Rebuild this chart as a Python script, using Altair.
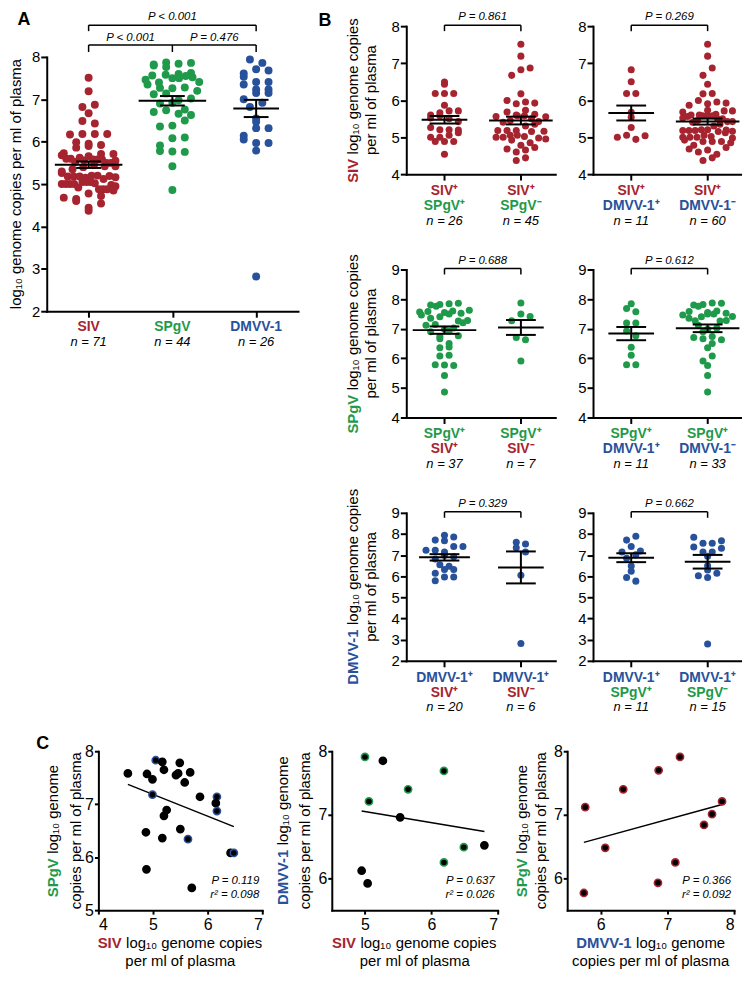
import math
import altair as alt
import pandas as pd

RED = "#A6242F"
GREEN = "#1F9A4A"
BLUE = "#28519B"
FONT = "Liberation Sans"

# ---------------- data (log10 genome copies per ml of plasma) ----------------
# Panel B, row 1
siv_spgv_pos = [6.49, 6.43, 6.18, 6.18, 6.18, 5.86, 5.71, 5.71, 5.66, 5.60, 5.58, 5.52, 5.50,
                5.42, 5.26, 5.20, 5.20, 5.19, 5.12, 5.05, 5.00, 5.00, 4.88, 4.88, 4.88, 4.54]
siv_spgv_neg = [7.51, 7.19, 6.87, 6.82, 6.67, 6.17, 5.99, 5.95, 5.92, 5.90, 5.73, 5.68, 5.62,
                5.60, 5.58, 5.58, 5.56, 5.55, 5.50, 5.45, 5.42, 5.40, 5.35, 5.30, 5.18, 5.18,
                5.18, 5.16, 5.15, 5.05, 5.05, 5.02, 5.00, 5.00, 4.98, 4.95, 4.92, 4.85, 4.78,
                4.72, 4.68, 4.65, 4.60, 4.44, 4.37]
siv_dmvv_pos = [6.82, 6.50, 6.18, 6.18, 5.67, 5.54, 5.26, 5.05, 5.04, 5.00, 4.94]
siv_dmvv_neg = [7.51, 7.19, 6.87, 6.67, 6.43, 6.18, 6.17, 5.99, 5.95, 5.92, 5.90, 5.86, 5.73,
                5.71, 5.71, 5.68, 5.62, 5.60, 5.60, 5.58, 5.58, 5.58, 5.56, 5.52, 5.50, 5.50,
                5.45, 5.42, 5.42, 5.40, 5.35, 5.30, 5.20, 5.20, 5.19, 5.18, 5.18, 5.18, 5.16,
                5.15, 5.12, 5.05, 5.02, 5.00, 5.00, 5.00, 4.98, 4.92, 4.88, 4.88, 4.88, 4.85,
                4.78, 4.72, 4.68, 4.65, 4.60, 4.54, 4.44, 4.37]
# Panel B, row 2
spgv_siv_pos = [7.86, 7.84, 7.82, 7.80, 7.76, 7.62, 7.60, 7.58, 7.56, 7.55, 7.52, 7.50, 7.46,
                7.40, 7.35, 7.28, 7.26, 7.20, 7.14, 7.12, 7.02, 6.98, 6.92, 6.90, 6.76, 6.74,
                6.66, 6.50, 6.38, 6.36, 6.10, 6.08, 5.78, 5.77, 5.76, 5.42, 4.86]
spgv_siv_neg = [7.87, 7.50, 7.41, 7.27, 6.70, 6.63, 5.91]
spgv_dmvv_pos = [7.84, 7.68, 7.57, 7.19, 7.19, 6.92, 6.76, 6.37, 6.10, 5.78, 5.78]
spgv_dmvv_neg = [7.87, 7.86, 7.82, 7.80, 7.76, 7.60, 7.58, 7.55, 7.52, 7.50, 7.50, 7.46, 7.41,
                 7.40, 7.35, 7.28, 7.27, 7.26, 7.12, 7.02, 6.98, 6.90, 6.74, 6.70, 6.66, 6.63,
                 6.50, 6.36, 6.08, 5.91, 5.76, 5.42, 4.86]
# Panel B, row 3
dmvv_siv_pos = [7.94, 7.86, 7.71, 7.68, 7.41, 7.41, 7.23, 7.23, 7.15, 7.00, 6.92, 6.82, 6.55,
                6.47, 6.32, 6.32, 6.14, 5.97, 5.97, 5.79]
dmvv_siv_neg = [7.61, 7.53, 7.35, 7.15, 6.05, 2.82]
dmvv_spgv_pos = [7.89, 7.71, 7.41, 7.20, 7.15, 7.02, 6.85, 6.48, 6.24, 5.94, 5.77]
dmvv_spgv_neg = [7.85, 7.68, 7.56, 7.56, 7.38, 7.33, 7.15, 7.15, 6.95, 6.50, 6.30, 6.14, 6.02,
                 5.94, 2.80]

# Panel A = all animals of each virus
siv_all = siv_spgv_pos + siv_spgv_neg
spgv_all = spgv_siv_pos + spgv_siv_neg
dmvv_all = dmvv_siv_pos + dmvv_siv_neg

# Panel C
c1_siv = [4.54, 4.89, 4.99, 5.05, 5.17, 5.20, 5.49, 5.42, 5.46, 5.68, 5.58, 4.99, 5.86, 6.17,
          6.15, 6.17, 5.25, 5.20, 4.87, 5.17, 5.50, 5.64, 6.42, 6.48, 4.88, 5.71]
c1_spgv = [7.58, 7.57, 7.47, 7.83, 7.80, 7.65, 7.78, 7.55, 7.58, 7.60, 7.41, 7.18, 7.14, 7.14,
           7.02, 6.87, 6.89, 6.78, 6.47, 6.36, 6.53, 6.34, 6.08, 6.08, 5.77, 5.42]
c1_ring = [0, 0, 0, 1, 0, 0, 0, 0, 0, 0, 0, 1, 0, 1, 0, 1, 0, 0, 0, 0, 0, 1, 0, 1, 0, 0]
c2_siv = [5.00, 5.27, 5.06, 5.65, 6.19, 5.53, 4.95, 5.04, 6.19, 6.49, 6.80]
c2_dmvv = [7.91, 7.85, 7.21, 7.40, 7.69, 6.96, 6.12, 5.92, 6.25, 6.49, 6.52]
c2_ring = [1, 0, 1, 1, 1, 0, 0, 0, 1, 1, 0]
c3_dmvv = [5.77, 5.75, 6.07, 6.34, 6.87, 7.19, 6.86, 7.12, 7.55, 7.67, 7.82]
c3_spgv = [7.12, 5.77, 6.48, 7.40, 7.70, 7.91, 5.93, 6.25, 6.84, 7.01, 7.21]
c3_ring = [1] * 11

p_A = ["P < 0.001", "P < 0.001", "P = 0.476"]
p_B = ["P = 0.861", "P = 0.269", "P = 0.688", "P = 0.612", "P = 0.329", "P = 0.662"]
p_C = ["P = 0.119", "P = 0.637", "P = 0.366"]
r2_C = ["r\u00b2 = 0.098", "r\u00b2 = 0.026", "r\u00b2 = 0.092"]

LOG = "log\u2081\u2080"
PLUS, MINUS = "\u207a", "\u207b"

# ---------------- helpers ----------------
REGW = {' ': 278, 'l': 222, 'o': 556, 'g': 556, 'e': 556, 'n': 556, 'm': 833, 'c': 500,
        'p': 556, 'i': 222, 's': 500, 'r': 333, 'f': 278, 'a': 556, '-': 333,
        '\u2081': 400, '\u2080': 400}
BOLDW = {'S': 667, 'I': 278, 'V': 667, 'P': 667, 'g': 611, 'D': 722, 'M': 833, '-': 333, '1': 556}
GAP = 4.5


def tw(s, size, bold=False):
    tab = BOLDW if bold else REGW
    return sum(tab.get(ch, 556) for ch in s) * size / 1000.0


ONE = pd.DataFrame({"k": [0]})


def txt(text, x, y, size, color="black", weight="normal", style="normal", align="center", angle=0):
    kw = dict(text=text, fontSize=size, color=color, fontWeight=weight, fontStyle=style,
              align=align, baseline="middle", font=FONT)
    if angle:
        kw["angle"] = angle
    return alt.Chart(ONE).mark_text(**kw).encode(x=alt.value(x), y=alt.value(y))


def ytitle(prefix, pcolor, rest, line2, x1, x2, yc, size=15):
    pw, rw = tw(prefix, size, True), tw(rest, size)
    anchor = yc + (pw + GAP + rw) / 2 - pw
    out = [txt(prefix, x1, anchor, size, pcolor, "bold", align="right", angle=270),
           txt(rest, x1, anchor - GAP, size, align="left", angle=270)]
    if line2:
        out.append(txt(line2, x2, yc, size, angle=270))
    return out


def xtitle(prefix, pcolor, rest, line2, w, y1, y2, size=15):
    pw, rw = tw(prefix, size, True), tw(rest, size)
    anchor = w / 2 - (pw + GAP + rw) / 2 + pw
    return [txt(prefix, anchor, y1, size, pcolor, "bold", align="right"),
            txt(rest, anchor + GAP, y1, size, align="left"),
            txt(line2, w / 2, y2, size)]


def swarm(vals, ppu_y, step, maxw, bh):
    bins = {}
    for i, v in enumerate(vals):
        bins.setdefault(int(math.floor(v * ppu_y / bh)), []).append(i)
    off = [0.0] * len(vals)
    for idx in bins.values():
        n = len(idx)
        if n < 2:
            continue
        s = min(step, maxw / (n - 1))
        order = sorted(idx, key=lambda i: (vals[i] * 61.8) % 1.0)
        for j, i in enumerate(order):
            off[i] = (j - (n - 1) / 2.0) * s
    return off


def dot_panel(groups, colors, lines, ydom, yticks, w, h, top, xdom, psize, step, maxw, bh, cap_px,
              brackets, ptexts, extra):
    ppu_y = (h - top) / (ydom[1] - ydom[0])
    ppu_x = w / (xdom[1] - xdom[0])
    rows = []
    for g, (vals, col) in enumerate(zip(groups, colors)):
        offs = swarm(vals, ppu_y, step, maxw, bh)
        hw = max(23, max(abs(o) for o in offs) + 7)
        for v, o in zip(vals, offs):
            rows.append({"g": g, "v": v, "xp": g + o / ppu_x, "c": col,
                         "hw": hw / ppu_x, "cw": cap_px / ppu_x})
    df = pd.DataFrame(rows)
    xs = alt.Scale(domain=xdom, nice=False, zero=False)
    ys = alt.Scale(domain=ydom, range=[h, top], nice=False, zero=False)
    xax = alt.Axis(values=list(range(len(groups))), labels=False, title=None, tickSize=6)
    yax = alt.Axis(values=yticks, title=None, tickSize=6, labelFontSize=15, labelPadding=1)

    def X(f):
        return alt.X(f, type="quantitative", scale=xs, axis=xax)

    def Y(f):
        return alt.Y(f, type="quantitative", scale=ys, axis=yax)

    layers = []
    layers.append(alt.Chart(df).mark_circle(size=psize, opacity=1).encode(
        x=X("xp"), y=Y("v"), color=alt.Color("c:N", scale=None)))
    stats = alt.Chart(df).transform_aggregate(
        m="mean(v)", se="stderr(v)", hw="max(hw)", cw="max(cw)", groupby=["g"]
    ).transform_calculate(
        lo="datum.m - datum.se", hi="datum.m + datum.se",
        ma="datum.g - datum.hw", mb="datum.g + datum.hw",
        ca="datum.g - datum.cw", cb="datum.g + datum.cw")
    layers.append(stats.mark_rule(color="black", strokeWidth=2).encode(x=X("ma"), x2="mb", y=Y("m")))
    layers.append(stats.mark_rule(color="black", strokeWidth=2).encode(x=X("g"), y=Y("lo"), y2="hi"))
    layers.append(stats.mark_rule(color="black", strokeWidth=2).encode(x=X("ca"), x2="cb", y=Y("lo")))
    layers.append(stats.mark_rule(color="black", strokeWidth=2).encode(x=X("ca"), x2="cb", y=Y("hi")))

    for (yoff, size, weight, style, items) in lines:
        ldf = pd.DataFrame({"g": list(range(len(items))), "t": [t for t, _ in items],
                            "c": [c for _, c in items]})
        layers.append(alt.Chart(ldf).mark_text(
            fontSize=size, fontWeight=weight, fontStyle=style, font=FONT, baseline="middle"
        ).encode(x=X("g"), y=alt.value(h + yoff), text="t:N", color=alt.Color("c:N", scale=None)))

    for (x0, x1, yl, legs, down) in brackets:
        layers.append(alt.Chart(pd.DataFrame({"a": [x0], "b": [x1]})).mark_rule(
            color="black", strokeWidth=1.5).encode(x=X("a"), x2="b", y=alt.value(top + yl)))
        layers.append(alt.Chart(pd.DataFrame({"a": legs})).mark_rule(
            color="black", strokeWidth=1.5).encode(
            x=X("a"), y=alt.value(top + yl), y2=alt.value(top + yl + down)))
    for (xp, yp, t) in ptexts:
        layers.append(alt.Chart(pd.DataFrame({"a": [xp], "t": [t]})).mark_text(
            fontSize=11.5, fontStyle="italic", font=FONT, baseline="middle", color="black"
        ).encode(x=X("a"), y=alt.value(top + yp), text="t:N"))
    layers += extra
    return alt.layer(*layers).properties(width=w, height=h)


def scatter_panel(xv, yv, ring, rcol, xdom, ydom, xticks, yticks, w, h, extra, ptxt, rtxt):
    df = pd.DataFrame({"x": xv, "y": yv, "s": [rcol if r else "black" for r in ring]})
    xs = alt.Scale(domain=xdom, nice=False, zero=False)
    ys = alt.Scale(domain=ydom, nice=False, zero=False)
    xax = alt.Axis(values=xticks, title=None, tickSize=4, labelFontSize=16, labelPadding=2)
    yax = alt.Axis(values=yticks, title=None, tickSize=4, labelFontSize=16, labelPadding=1)
    pts = alt.Chart(df).mark_circle(size=52, opacity=1, fill="black", strokeWidth=1.6).encode(
        x=alt.X("x:Q", scale=xs, axis=xax), y=alt.Y("y:Q", scale=ys, axis=yax),
        stroke=alt.Stroke("s:N", scale=None))
    reg = alt.Chart(df).transform_regression("x", "y").mark_line(color="black", strokeWidth=1.5).encode(
        x=alt.X("x:Q", scale=xs, axis=xax), y=alt.Y("y:Q", scale=ys, axis=yax))
    layers = [reg, pts,
              txt(ptxt, w - 3, h - 29, 11.5, style="italic", align="right"),
              txt(rtxt, w - 3, h - 15, 11.5, style="italic", align="right")] + extra
    return alt.layer(*layers).properties(width=w, height=h)


# ---------------- panel A ----------------
AW, AT, AAX = 253, 31, 256          # width, blank band above the axis, axis height
AH = AT + AAX
A_chart = dot_panel(
    [siv_all, spgv_all, dmvv_all], [RED, GREEN, BLUE],
    [(16, 14, "bold", "normal", [("SIV", RED), ("SPgV", GREEN), ("DMVV-1", BLUE)]),
     (31, 13, "normal", "italic", [("n = %d" % len(siv_all), "black"), ("n = %d" % len(spgv_all), "black"),
                                    ("n = %d" % len(dmvv_all), "black")])],
    [2, 8], list(range(2, 9)), AW, AH, AT, [-0.5, 2.5], 64, 12.5, 54, 9, 12.5,
    [(0, 2, -32, [0, 2], 6), (0, 2, -12, [0, 1, 2], 7)],
    [(1, -40, p_A[0]), (0.5, -19, p_A[1]), (1.5, -19, p_A[2])],
    [txt(LOG + " genome copies per ml of plasma", -31, AT + AAX / 2, 15, angle=270),
     txt("A", -23, AT - 37, 18, weight="bold")])

# ---------------- panel B ----------------
BW, BH = 150, 149
BXD = [-0.5, 1.45]


def bpanel(g0, g1, col, l0, l1, ydom, yticks, p, title=None, letter=False):
    lines = [(17, 14, "bold", "normal", [l0[0], l1[0]]),
             (32, 14, "bold", "normal", [l0[1], l1[1]]),
             (47, 13, "normal", "italic", [("n = %d" % len(g0), "black"), ("n = %d" % len(g1), "black")])]
    extra = []
    if title:
        extra += ytitle(title[0], title[1], LOG + " genome copies", "per ml of plasma",
                        -54, -35, BH / 2)
    if letter:
        extra.append(txt("B", -82, -5, 18, weight="bold"))
    return dot_panel([g0, g1], [col, col], lines, ydom, yticks, BW, BH, 0, BXD, 50, 9.3, 50, 8, 15,
                     [(0, 1, -1, [0, 1], 6)], [(0.5, -9, p)], extra)


S, G, D = "SIV", "SPgV", "DMVV-1"
B1 = bpanel(siv_spgv_pos, siv_spgv_neg, RED, [(S + PLUS, RED), (G + PLUS, GREEN)],
            [(S + PLUS, RED), (G + MINUS, GREEN)], [4, 8], [4, 5, 6, 7, 8], p_B[0], (S, RED), True)
B2 = bpanel(siv_dmvv_pos, siv_dmvv_neg, RED, [(S + PLUS, RED), (D + PLUS, BLUE)],
            [(S + PLUS, RED), (D + MINUS, BLUE)], [4, 8], [4, 5, 6, 7, 8], p_B[1])
B3 = bpanel(spgv_siv_pos, spgv_siv_neg, GREEN, [(G + PLUS, GREEN), (S + PLUS, RED)],
            [(G + PLUS, GREEN), (S + MINUS, RED)], [4, 9], [4, 5, 6, 7, 8, 9], p_B[2], (G, GREEN))
B4 = bpanel(spgv_dmvv_pos, spgv_dmvv_neg, GREEN, [(G + PLUS, GREEN), (D + PLUS, BLUE)],
            [(G + PLUS, GREEN), (D + MINUS, BLUE)], [4, 9], [4, 5, 6, 7, 8, 9], p_B[3])
B5 = bpanel(dmvv_siv_pos, dmvv_siv_neg, BLUE, [(D + PLUS, BLUE), (S + PLUS, RED)],
            [(D + PLUS, BLUE), (S + MINUS, RED)], [2, 9], list(range(2, 10)), p_B[4], (D, BLUE))
B6 = bpanel(dmvv_spgv_pos, dmvv_spgv_neg, BLUE, [(D + PLUS, BLUE), (G + PLUS, GREEN)],
            [(D + PLUS, BLUE), (G + MINUS, GREEN)], [2, 9], list(range(2, 10)), p_B[5])

B_grid = alt.concat(B1, B2, B3, B4, B5, B6, columns=2,
                    spacing={"row": 96, "column": 38}, bounds="flush")

# ---------------- panel C ----------------
CH = 160
C1W, C2W, C3W = 165, 167, 168
C1 = scatter_panel(
    c1_siv, c1_spgv, c1_ring, BLUE, [4, 7], [5, 8], [4, 5, 6, 7], [5, 6, 7, 8], C1W, CH,
    ytitle(G, GREEN, LOG + " genome", "copies per ml of plasma", -46, -22, CH / 2)
    + xtitle(S, RED, LOG + " genome copies", "per ml of plasma", C1W, CH + 33, CH + 51)
    + [txt("C", -56, -7, 18, weight="bold")],
    p_C[0], r2_C[0])
C2 = scatter_panel(
    c2_siv, c2_dmvv, c2_ring, GREEN, [4.5, 7], [5.5, 8], [5, 6, 7], [6, 7, 8], C2W, CH,
    ytitle(D, BLUE, LOG + " genome", "copies per ml of plasma", -49, -27, CH / 2)
    + xtitle(S, RED, LOG + " genome copies", "per ml of plasma", C2W, CH + 33, CH + 51),
    p_C[1], r2_C[1])
C3 = scatter_panel(
    c3_dmvv, c3_spgv, c3_ring, RED, [5.5, 8], [5.5, 8], [6, 7, 8], [6, 7, 8], C3W, CH,
    ytitle(G, GREEN, LOG + " genome", "copies per ml of plasma", -45, -26, CH / 2)
    + xtitle(D, BLUE, LOG + " genome", "copies per ml of plasma", C3W, CH + 33, CH + 51),
    p_C[2], r2_C[2])

C_inner = alt.hconcat(C1, C2, C3, spacing=70, bounds="flush")
spacer = alt.Chart(ONE).mark_point(opacity=0).encode(
    x=alt.value(0), y=alt.value(0)).properties(width=1, height=1)
C_row = alt.hconcat(spacer, C_inner, spacing=51, bounds="flush")

top = alt.hconcat(A_chart, B_grid, spacing=20)
chart = alt.vconcat(top, C_row, spacing=21).properties(padding=0).configure_view(
    stroke=None
).configure_axis(
    domainColor="black", domainWidth=2, domainCap="square", tickColor="black", tickWidth=2,
    labelColor="black", labelFont=FONT, grid=False
)

chart.save("out.html", embed_options={"renderer": "svg", "actions": False})
